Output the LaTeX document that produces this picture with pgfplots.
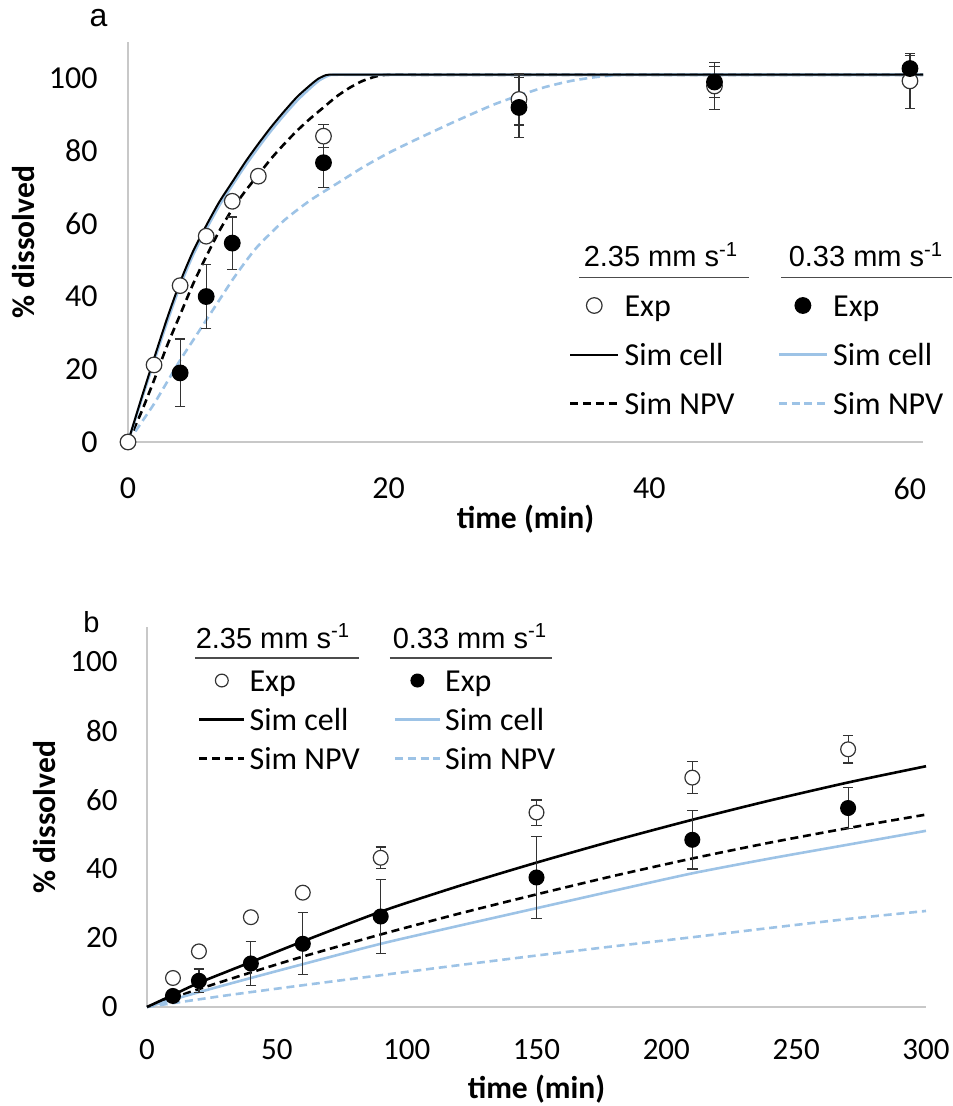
\documentclass[border=0pt]{standalone}
\usepackage{pgfplots}
\pgfplotsset{compat=1.18}
\usepackage{fontspec}
\setmainfont{Carlito}
\newfontfamily\arialf{Liberation Sans}
\definecolor{lblue}{RGB}{157,195,230}
\definecolor{axgray}{RGB}{200,200,200}
\newcommand\tickfontA{\fontsize{16}{19}\selectfont}
\newcommand\tickfontB{\fontsize{15.5}{18.5}\selectfont}
\newcommand\labfont{\fontsize{15.8}{19}\selectfont\bfseries}
\newcommand\legfont{\fontsize{16}{19}\selectfont}
\newcommand\hdrfont{\arialf\fontsize{14.5}{17}\selectfont}
\newcommand\lt[1]{\legfont\rule[-4pt]{0pt}{16pt}#1}

\pgfplotstableread{
t y e
0 0 0
2 21.2 0
4 43 0
6 56.6 0
8 66.2 0
10 73.1 0
15 84.1 3.2
30 94.2 7
45 97.9 6.4
60 99.3 7.6
}\openA
\pgfplotstableread{
t y e
4 19 9.3
6 40 8.8
8 54.7 7.2
15 76.8 6.9
30 92 8.3
45 99 4.3
60 102.7 3.6
}\fillA
\pgfplotstableread{
t y e
10 8.4 0.8
20 16.1 0.8
40 26 0.8
60 33.1 0.8
90 43.2 3.1
150 56.3 3.65
210 66.4 4.6
270 74.6 3.95
}\openB
\pgfplotstableread{
t y e
10 3.2 1.0
20 7.6 3.4
40 12.6 6.35
60 18.3 9
90 26.2 10.75
150 37.5 11.95
210 48.4 8.45
270 57.6 5.95
}\fillB

\pgfplotsset{
  base/.style={
    scale only axis,
    axis lines=left,
    axis line style={draw=axgray, line width=0.9pt, -},
    major tick length=0pt,
    tick style={draw=none},
    ymin=0, ymax=110, ytick={0,20,...,100},
    /pgf/number format/assume math mode=true,
    clip=false,
    legend columns=2,
    legend cell align=left,
    legend style={draw=none, fill=none, inner sep=0pt, outer sep=0pt,
      nodes={inner sep=0pt, outer sep=0pt}},
  },
  expA/.style={only marks, mark=*, mark size=3.9pt,
    mark options={draw=black!80, fill=white, line width=0.6pt}},
  expB/.style={only marks, mark=*, mark size=3.9pt,
    mark options={draw=black, fill=black, line width=0.6pt}},
  ebars/.style={error bars/.cd, y dir=both, y explicit,
    error bar style={line width=0.6pt, black!80},
    error mark options={rotate=90, mark size=2.6pt, line width=0.6pt, black!80}},
  legA/.style={legend image code/.code={\draw[##1]
    (0pt,0pt) -- (24pt,0pt);}},
  legB/.style={legend image code/.code={\draw[##1]
    (0pt,0pt) -- (22.5pt,0pt);}},
  % marker legend images: invisible 24pt box plus a single mark in its middle
  legmark/.style n args={4}{legend image code/.code={%
    \pgfpathmoveto{\pgfpoint{0pt}{0pt}}\pgfpathlineto{\pgfpoint{#1}{0pt}}%
    \pgfusepath{use as bounding box}%
    \path plot[mark=*, mark size=#2, mark options={draw=#3, fill=#4, line width=0.6pt, solid}]
      coordinates {(0.5*#1,0pt)};}},
}

\begin{document}
\begin{tikzpicture}
\useasboundingbox (0,0) rectangle (476pt,-553pt);

\node[font=\arialf\fontsize{16}{19}\selectfont, inner sep=0pt] at (49.25pt,-9.25pt) {a};
\node[font=\arialf\fontsize{14.5}{17}\selectfont, inner sep=0pt] at (45.75pt,-311.25pt) {b};

% ---------------- panel a ----------------
\begin{axis}[base,
  at={(64pt,-221pt)}, anchor=south west,
  width=397.5pt, height=200pt,
  xmin=0, xmax=61, xtick={0,20,40,60},
  tick label style={font=\tickfontA},
  xticklabel style={anchor=north, inner sep=0pt, yshift=-17.5pt},
  yticklabel style={anchor=east, inner sep=0pt, xshift=-15pt},
  xlabel={\labfont time (min)},
  xlabel style={at={(axis description cs:0.5,0)}, anchor=center, yshift=-38.5pt},
  ylabel={\labfont \% dissolved},
  ylabel style={at={(axis description cs:-0.1308,0.5)}, anchor=center},
  legend style={at={(axis description cs:0.5547,0.375)}, anchor=north west,
    row sep=11pt, column sep=2.5pt},
]
\addlegendimage{draw=none, legmark={24pt}{3.9pt}{black!80}{white}}
\addlegendentry{\makebox[74pt][l]{\lt{Exp}}}
\addlegendimage{draw=none, legmark={24pt}{3.9pt}{black}{black}}
\addlegendentry{\lt{Exp}}
\addlegendimage{black, line width=1pt, legA}
\addlegendentry{\makebox[74pt][l]{\lt{Sim cell}}}
\addlegendimage{lblue, line width=1.3pt, legA}
\addlegendentry{\lt{Sim cell}}
\addlegendimage{black, line width=1.3pt, dash pattern=on 4pt off 2.4pt, legA}
\addlegendentry{\makebox[74pt][l]{\lt{Sim NPV}}}
\addlegendimage{lblue, line width=1.3pt, dash pattern=on 4pt off 2.4pt, legA}
\addlegendentry{\lt{Sim NPV}}

% Sim NPV 0.33
\addplot[forget plot, lblue, line width=1.3pt, dash pattern=on 4pt off 2.4pt, smooth, tension=0.4] coordinates {
(0,0)(1,5.2)(2,10.5)(3,16.5)(4,22.5)(5,28)(6,33.5)(7,39)(8,44.5)(9,49.5)(10,54)
(12,61)(14,66.5)(16,71)(18,75.5)(20,79.5)(22,83)(25,88)(28,92.7)(30,95.3)
(32,97.6)(34,99.3)(36,100.4)(38,101)(42,101)(61,101)};
% Sim NPV 2.35
\addplot[forget plot, black, line width=1.3pt, dash pattern=on 4pt off 2.4pt, smooth, tension=0.4] coordinates {
(0,0)(1,8)(2,17)(3,26.5)(4,35)(5,43.5)(6,51)(7,58)(8,64)(9,69)(10,73.5)(11,78)
(12,82)(13,85.7)(14,89)(15,92)(16,95)(17,97.4)(18,99.3)(19,100.5)(20,101)(24,101)(61,101)};
% Sim cell 0.33
\addplot[forget plot, lblue, line width=1.3pt, smooth, tension=0.4] coordinates {
(0,0)(1,11.2)(2,22.2)(3,33)(4,43)(5,51.5)(6,58.5)(7,65)(8,70.6)(9,76)(10,81)
(11,85.7)(12,90)(13,94)(14,97.4)(14.7,99.5)(15.4,100.8)(16,101)(20,101)(61,101)};
% Sim cell 2.35
\addplot[forget plot, black, line width=1pt, smooth, tension=0.4] coordinates {
(0,0)(1,11.7)(2,23)(3,34)(4,44)(5,52.5)(6,59.5)(7,66)(8,71.5)(9,77)(10,82)
(11,86.7)(12,91)(13,95)(14,98.2)(14.6,99.9)(15.2,100.9)(15.8,101)(20,101)(61,101)};

\addplot[forget plot, expA, ebars] table[x=t, y=y, y error=e] {\openA};
\addplot[forget plot, expB, ebars] table[x=t, y=y, y error=e] {\fillA};

\node[font=\hdrfont, anchor=base, inner sep=0pt] at (axis description cs:0.6704,0.4375) {2.35 mm s\textsuperscript{-1}};
\node[font=\hdrfont, anchor=base, inner sep=0pt] at (axis description cs:0.9283,0.4375) {0.33 mm s\textsuperscript{-1}};
\draw[black!70, line width=0.6pt] (axis description cs:0.5673,0.4108) -- (axis description cs:0.7811,0.4108);
\draw[black!70, line width=0.6pt] (axis description cs:0.8214,0.4108) -- (axis description cs:1.0365,0.4108);
\end{axis}

% ---------------- panel b ----------------
\begin{axis}[base,
  at={(73.5pt,-503.5pt)}, anchor=south west,
  width=389.5pt, height=190pt,
  xmin=0, xmax=300, xtick={0,50,...,300},
  tick label style={font=\tickfontB},
  xticklabel style={anchor=north, inner sep=0pt, yshift=-16pt},
  yticklabel style={anchor=east, inner sep=0pt, xshift=-14.5pt},
  xlabel={\labfont time (min)},
  xlabel style={at={(axis description cs:0.5,0)}, anchor=center, yshift=-41pt},
  ylabel={\labfont \% dissolved},
  ylabel style={at={(axis description cs:-0.131,0.5)}, anchor=center},
  legend style={at={(axis description cs:0.0655,0.8947)}, anchor=north west,
    row sep=6pt, column sep=2pt},
]
\addlegendimage{draw=none, legmark={22.5pt}{3.2pt}{black!80}{white}}
\addlegendentry{\makebox[70pt][l]{\lt{Exp}}}
\addlegendimage{draw=none, legmark={22.5pt}{3.2pt}{black}{black}}
\addlegendentry{\lt{Exp}}
\addlegendimage{black, line width=1.3pt, legB}
\addlegendentry{\makebox[70pt][l]{\lt{Sim cell}}}
\addlegendimage{lblue, line width=1.3pt, legB}
\addlegendentry{\lt{Sim cell}}
\addlegendimage{black, line width=1.3pt, dash pattern=on 4pt off 2.4pt, legB}
\addlegendentry{\makebox[70pt][l]{\lt{Sim NPV}}}
\addlegendimage{lblue, line width=1.3pt, dash pattern=on 4pt off 2.4pt, legB}
\addlegendentry{\lt{Sim NPV}}

\addplot[forget plot, lblue, line width=1.3pt, dash pattern=on 4pt off 2.4pt, smooth, tension=0.4] coordinates {
(0,0)(30,3.3)(60,6.3)(90,9.2)(120,12.1)(150,14.9)(180,17.6)(210,20.2)(240,22.9)(270,25.5)(300,27.8)};
\addplot[forget plot, black, line width=1.3pt, dash pattern=on 4pt off 2.4pt, smooth, tension=0.4] coordinates {
(0,0)(10,2.6)(20,5.2)(40,10)(60,14.6)(90,21)(120,27)(150,32.6)(180,38)(210,43)(240,47.6)(270,51.8)(300,55.7)};
\addplot[forget plot, lblue, line width=1.3pt, smooth, tension=0.4] coordinates {
(0,0)(20,4.3)(40,8.4)(60,12.4)(90,18.3)(120,23.5)(150,28.6)(180,33.7)(210,38.7)(240,43)(270,47)(300,51)};
\addplot[forget plot, black, line width=1.3pt, smooth, tension=0.4] coordinates {
(0,0)(10,3.5)(20,7)(40,13)(60,19)(90,27.6)(120,35)(150,41.8)(180,48.2)(210,54.2)(240,59.8)(270,65)(300,69.7)};

\addplot[forget plot, expA, mark size=3.7pt, ebars] table[x=t, y=y, y error=e] {\openB};
\addplot[forget plot, expB, mark size=3.7pt, ebars] table[x=t, y=y, y error=e] {\fillB};

\node[font=\hdrfont, anchor=base, inner sep=0pt] at (axis description cs:0.1617,0.9447) {2.35 mm s\textsuperscript{-1}};
\node[font=\hdrfont, anchor=base, inner sep=0pt] at (axis description cs:0.4146,0.9447) {0.33 mm s\textsuperscript{-1}};
\draw[black!70, line width=0.6pt] (axis description cs:0.0616,0.9184) -- (axis description cs:0.2721,0.9184);
\draw[black!70, line width=0.6pt] (axis description cs:0.3119,0.9184) -- (axis description cs:0.5199,0.9184);
\end{axis}
\end{tikzpicture}
\end{document}
